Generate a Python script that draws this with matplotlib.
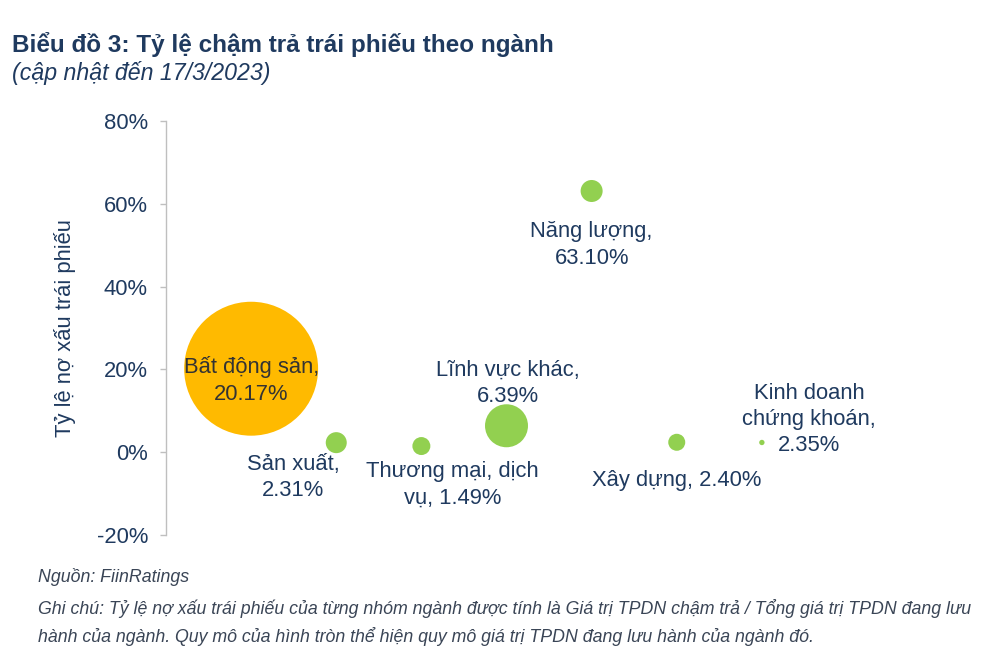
import matplotlib
matplotlib.use("Agg")
import matplotlib.pyplot as plt

# ─── Data ─────────────────────────────────────────────────────────────────────
nganh = [
    "Bất động sản",
    "Sản xuất",
    "Thương mại, dịch vụ",
    "Lĩnh vực khác",
    "Năng lượng",
    "Xây dựng",
    "Kinh doanh chứng khoán",
]
ty_le_no_xau = [20.17, 2.31, 1.49, 6.39, 63.10, 2.40, 2.35]          # %
quy_mo_tuong_doi = [100, 2.46, 1.80, 10.3, 2.70, 1.61, 0.16]        # BĐS = 100
nhan = [
    "Bất động sản,\n20.17%",
    "Sản xuất,\n2.31%",
    "Thương mại, dịch\nvụ, 1.49%",
    "Lĩnh vực khác,\n6.39%",
    "Năng lượng,\n63.10%",
    "Xây dựng, 2.40%",
    "Kinh doanh\nchứng khoán,\n2.35%",
]
y_ticks = [-20, 0, 20, 40, 60, 80]

# ─── Style ────────────────────────────────────────────────────────────────────
NAVY = "#1F3A5F"
GREY_TXT = "#3A4556"
COLOURS = ["#FFBA00"] + ["#92D050"] * 6
LABEL_OFFSETS = [(0, -12), (-43, -35), (31, -39), (1, 42), (0, -54), (0, -38), (47, 23)]
LABEL_COLOURS = ["#333333"] + [NAVY] * 6
SIZE_SCALE = 93
FONT = "Liberation Sans"
FS = 15.8
NOTE_FS = 12.8

plt.rcParams["font.family"] = [FONT, "DejaVu Sans"]

fig = plt.figure(figsize=(10, 6.61), dpi=100)
ax = fig.add_axes([0.166, 0.1906, 0.681, 0.6263])

xs = list(range(1, len(nganh) + 1))
ax.scatter(xs, ty_le_no_xau, s=[q * SIZE_SCALE for q in quy_mo_tuong_doi],
           c=COLOURS, linewidths=0, zorder=3)

for x, y, txt, off, col in zip(xs, ty_le_no_xau, nhan, LABEL_OFFSETS, LABEL_COLOURS):
    ax.annotate(txt, xy=(x, y), xytext=off, textcoords="offset pixels",
                ha="center", va="center", multialignment="center",
                fontsize=FS, color=col, linespacing=1.34, zorder=4)

ax.set_xlim(0, 8)
ax.set_ylim(-20, 80)
ax.set_yticks(y_ticks)
ax.set_yticklabels([f"{v}%" for v in y_ticks])
ax.tick_params(axis="y", direction="out", length=4, width=1, color="#BFBFBF",
               pad=9, labelsize=FS, labelcolor=NAVY)
ax.set_xticks([])
for side in ("top", "right", "bottom"):
    ax.spines[side].set_visible(False)
ax.spines["left"].set_color("#BFBFBF")
ax.spines["left"].set_linewidth(1)

fig.text(0.065, 1 - 328 / 661, "Tỷ lệ nợ xấu trái phiếu", rotation=90,
         ha="center", va="center", fontsize=FS, color=NAVY)

# ─── Titles and notes ─────────────────────────────────────────────────────────
fig.text(0.012, 1 - 52 / 661, "Biểu đồ 3: Tỷ lệ chậm trả trái phiếu theo ngành",
         fontsize=17.5, fontweight="bold", color=NAVY, va="baseline")
fig.text(0.012, 1 - 80 / 661, "(cập nhật đến 17/3/2023)",
         fontsize=16.7, style="italic", color=NAVY, va="baseline")

fig.text(0.038, 1 - 577 / 661, "Nguồn: FiinRatings",
         fontsize=NOTE_FS, style="italic", color=GREY_TXT, va="center")
fig.text(0.038, 1 - 609 / 661,
         "Ghi chú: Tỷ lệ nợ xấu trái phiếu của từng nhóm ngành được tính là Giá trị "
         "TPDN chậm trả / Tổng giá trị TPDN đang lưu",
         fontsize=NOTE_FS, style="italic", color=GREY_TXT, va="center")
fig.text(0.038, 1 - 636 / 661,
         "hành của ngành. Quy mô của hình tròn thể hiện quy mô giá trị TPDN đang "
         "lưu hành của ngành đó.",
         fontsize=NOTE_FS, style="italic", color=GREY_TXT, va="center")

fig.savefig("out.png", dpi=100, facecolor="white")
